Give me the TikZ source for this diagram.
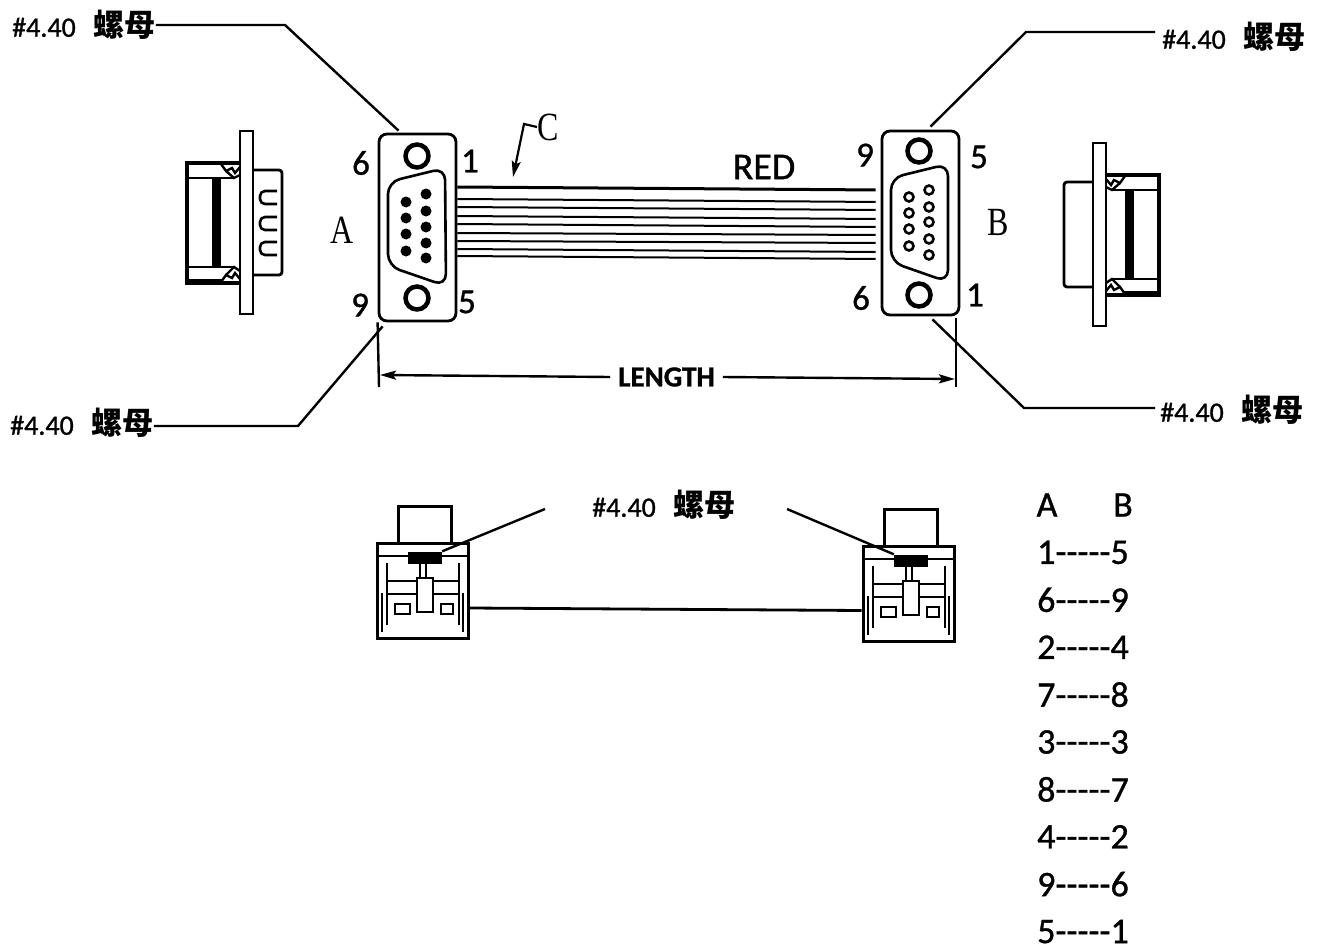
\documentclass[tikz,border=0pt]{standalone}
\usepackage{fontspec}
\newfontfamily\labelfont[FakeBold=1]{Carlito}
\newfontfamily\seriffont[FakeStretch=0.8]{Liberation Serif}
\newfontfamily\cjkfont{Noto Sans CJK SC}
\usetikzlibrary{arrows.meta}
\tikzset{
    >={Stealth[length=16pt, width=9pt, inset=3pt]},
    every node/.style={inner sep=0pt},
    leader/.style={line width=2.4pt},
    shell/.style={draw, line width=2.8pt, rounded corners=8pt, minimum width=77pt},
    screw/.style={draw, circle, line width=4.5pt, minimum size=23pt},
    pinlabel/.style={font=\labelfont\fontsize{35}{35}\selectfont},
    tablelabel/.style={font=\labelfont\fontsize{36}{36}\selectfont},
    seriflabel/.style={font=\seriffont\fontsize{40}{40}\selectfont},
    sideview/.pic={
        \draw[line width=2.8pt] (0,0) rectangle (13,183);
        \draw[line width=3.2pt] (0,32) -- (-53,32) -- (-53,152) -- (0,152);
        \draw[line width=2.4pt] (-53,47) -- (-6,47) (-53,136) -- (-6,136) (-53,149) -- (-18,149);
        \fill (-28,47) rectangle (-19,136);
        \draw[line width=2.4pt] (-19,33) -- (-14,40) -- (-8,37) -- (-5,42) -- (0,36)
            (-14,40) -- (-6,47) -- (0,44)
            (-19,151) -- (-14,144) -- (-8,147) -- (-5,142) -- (0,148)
            (-14,144) -- (-6,136) -- (0,140);
        \draw[line width=2.8pt, rounded corners=3pt] (13,39) -- (42,39) -- (42,144) -- (13,144);
    },
    endview/.pic={
        \node[draw, line width=3pt, minimum width=91pt, minimum height=95pt] (body) at (45.5,47.5) {};
        \draw[line width=3pt] (21,0) -- (21,-37) -- (74,-37) -- (74,0);
        \draw[line width=2.6pt] (0,13) -- (91,13) (11,38) -- (83,38) (11,51) -- (83,51);
        \draw[line width=2.2pt] (10,20) -- (10,82) (82,20) -- (82,82) (5,50) -- (5,89) (86,50) -- (86,89)
            (43,20) -- (43,35) (49,20) -- (49,35);
        \node[fill=black, minimum width=34pt, minimum height=12pt] (nut) at (48,14.5) {};
        \draw[line width=2.6pt, fill=white] (40,35) rectangle (56,69);
        \draw[line width=2.6pt] (18,61) rectangle (33,71) (64,61) rectangle (76,71);
    },
}
\newcommand{\nuttext}{\labelfont\fontsize{28}{28}\selectfont \#4.40\hspace*{18pt}{\cjkfont\bfseries\fontsize{31}{31}\selectfont 螺母}}

\begin{document}
\begin{tikzpicture}[x=1pt, y=-1pt]
    \useasboundingbox (0,0) rectangle (1320,947);

    % connector faces
    \node[shell, minimum height=187pt] (shellA) at (417.5,227.5) {};
    \node[shell, minimum height=184pt] (shellB) at (920.5,223) {};
    \node[screw] (screwA1) at (417,156) {};
    \node[screw] (screwA2) at (417,298) {};
    \node[screw] (screwB1) at (919,151) {};
    \node[screw] (screwB2) at (919,295) {};
    \draw[line width=2.6pt, rounded corners=12pt] (388,182) -- (445,168) -- (446,286) -- (388,266) -- cycle;
    \draw[line width=2.6pt, rounded corners=12pt] (891,178) -- (948,164) -- (948,282) -- (891,262) -- cycle;
    \foreach \x/\y in {406/202, 406/218, 406/234, 406/251, 426/194, 426/211, 426/227, 426/243, 426/258}
        \fill (\x,\y) circle (5.5);
    \foreach \x/\y in {909/197, 909/213, 909/229, 909/246, 929/190, 929/207, 929/222, 929/239, 929/255}
        \draw[line width=2.6pt] (\x,\y) circle (4.5);

    % pin numbers
    \node[pinlabel] (pinA6) at (361,163) {6};
    \node[pinlabel] (pinA1) at (470,161) {1};
    \node[pinlabel] (pinA9) at (360,305) {9};
    \node[pinlabel] (pinA5) at (467,302) {5};
    \node[pinlabel] (pinB9) at (865,155) {9};
    \node[pinlabel] (pinB5) at (979,157) {5};
    \node[pinlabel] (pinB6) at (861,298) {6};
    \node[pinlabel] (pinB1) at (975,295) {1};
    \node[seriflabel] (labelA) at (342,230) {A};
    \node[seriflabel] (labelB) at (998,222) {B};

    % flat cable
    \draw[line width=3pt, shorten >=5pt] (shellA.east |- 0,187) -- (shellB.west |- 0,190);
    \foreach \yl/\yr in {199/202, 207/210, 216/219, 224/227, 233/235, 241/243, 249/252, 256/259}
        \draw[line width=2pt, shorten >=5pt] (shellA.east |- 0,\yl) -- (shellB.west |- 0,\yr);
    \node[font=\labelfont\fontsize{38}{38}\selectfont] (labelRed) at (764,167) {RED};
    \node[seriflabel, anchor=west] (labelC) at (537,127) {C};
    \coordinate (bendC) at (524,124);
    \coordinate (tipC) at (513,177);
    \draw[->, line width=2.2pt] (labelC.west) -- (bendC) -- (tipC);

    % side views
    \pic at (240,131) {sideview};
    \pic[xscale=-1] at (1106,143) {sideview};
    \foreach \y in {191, 217, 242}
        \draw[line width=2.6pt, rounded corners=5pt] (277,\y) -- (260,\y) -- (260,\y+13) -- (277,\y+13);

    % nut labels
    \node[anchor=west] (nutTL) at (12,25) {\nuttext};
    \node[anchor=west] (nutTR) at (1162,37) {\nuttext};
    \node[anchor=west] (nutBL) at (10,423) {\nuttext};
    \node[anchor=west] (nutBR) at (1160,410) {\nuttext};
    \coordinate (bendTL) at (285,25);
    \coordinate (bendTR) at (1026,32);
    \coordinate (bendBL) at (298,426);
    \coordinate (bendBR) at (1024,408);
    \draw[leader] (nutTL.east) -- (bendTL) -- ([xshift=-19pt,yshift=2pt]shellA.north);
    \draw[leader, shorten <=7pt] ([yshift=5pt]nutTR.west) -- (bendTR) -- ([xshift=10pt,yshift=3pt]shellB.north);
    \draw[leader] ([yshift=-3pt]nutBL.east) -- (bendBL) -- ([xshift=5pt,yshift=-4pt]shellA.south west);
    \draw[leader, shorten <=5pt] ([yshift=2pt]nutBR.west) -- (bendBR) -- ([xshift=12pt,yshift=-3pt]shellB.south);

    % length
    \node[font=\labelfont\bfseries\fontsize{29}{29}\selectfont, inner xsep=8pt] (labelLength) at (666.5,377) {LENGTH};
    \coordinate (dimA) at (379,387);
    \coordinate (dimB) at (956,387);
    \coordinate (arrowA) at (380,375);
    \coordinate (arrowB) at (955,379);
    \draw[leader] (shellA.south west) -- (dimA);
    \draw[leader] (956,318) -- (dimB);
    \draw[->, leader] (labelLength.west) -- (arrowA);
    \draw[->, leader] (labelLength.east) -- (arrowB);

    % end views
    \pic (endA) at (377,543) {endview};
    \pic (endB) at (863,546) {endview};
    \node (nutMid) at (664,505) {\nuttext};
    \coordinate (freeA) at (545,509);
    \coordinate (freeB) at (787,509);
    \draw[leader] (freeA) -- (endAnut.north east);
    \draw[leader] (freeB) -- (endBnut.north west);
    \draw[line width=2.8pt] ([yshift=-17.5pt]endAbody.east) -- ([yshift=-17pt]endBbody.west);

    % wiring table
    \node[tablelabel] (colA) at (1047,505) {A};
    \node[tablelabel] (colB) at (1123,505) {B};
    \foreach \row [count=\i] in {1-----5, 6-----9, 2-----4, 7-----8, 3-----3, 8-----7, 4-----2, 9-----6, 5-----1}
        \node[tablelabel] (row\i) at (1083,{505+47.4*\i}) {\row};
\end{tikzpicture}
\end{document}
